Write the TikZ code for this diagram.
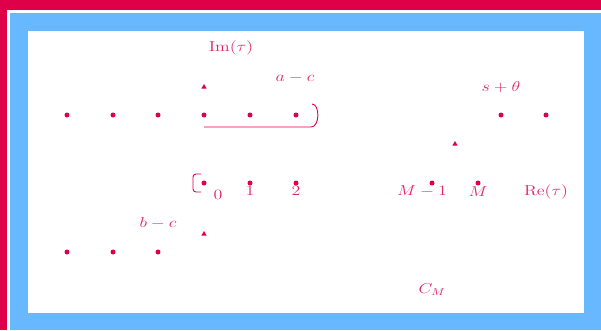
\documentclass[tikz,border=0pt]{standalone}
\usetikzlibrary{shapes.geometric}
\definecolor{crim}{RGB}{222,0,72}
\definecolor{frameblue}{RGB}{104,184,255}
\newcommand{\widetxt}[1]{\scalebox{1.25}[1.0]{#1}}
\tikzset{
  dot/.style={circle, fill=crim, inner sep=0pt, minimum size=5bp},
  tri/.style={regular polygon, regular polygon sides=3, fill=crim, inner sep=0pt, minimum size=6bp},
  lbl/.style={text=crim!85!white, inner sep=0pt, font=\fontsize{14}{16}\selectfont},
  contour/.style={draw=crim, line width=0.9bp},
}
\begin{document}
\begin{tikzpicture}[x=1bp, y=-1bp]
\useasboundingbox (0,0) rectangle (601,330);
% frame
\fill[crim] (0,0) rectangle (601,330);
\fill[white] (7,10) rectangle (601,330);
\fill[frameblue] (10,13) rectangle (601,330);
\fill[white] (28,31) rectangle (584,313);
% dots, upper row
\node[dot] (u1) at (67,115) {};
\node[dot] (u2) at (113,115) {};
\node[dot] (u3) at (158,115) {};
\node[dot] (u4) at (204,115) {};
\node[dot] (u5) at (250,115) {};
\node[dot] (u6) at (296,115) {};
\node[dot] (u7) at (501,115) {};
\node[dot] (u8) at (546,115) {};
% dots, real axis
\node[dot] (r0) at (204,183) {};
\node[dot] (r1) at (250,183) {};
\node[dot] (r2) at (296,183) {};
\node[dot] (rm1) at (432,183) {};
\node[dot] (rm) at (478,183) {};
% dots, lower row
\node[dot] (l1) at (67,252) {};
\node[dot] (l2) at (113,252) {};
\node[dot] (l3) at (158,252) {};
% small triangles
\node[tri] (t1) at (204,87) {};
\node[tri] (t2) at (204,234) {};
\node[tri] (t3) at (455,144) {};
% labels
\node[lbl] (im) at (231,48) {\widetxt{$\mathrm{Im}(\tau)$}};
\node[lbl] (amc) at (295,78) {\widetxt{$a-c$}};
\node[lbl] (bmc) at (158,223) {\widetxt{$b-c$}};
\node[lbl] (spt) at (501,87) {\widetxt{$s+\theta$}};
\node[lbl] (n0) at (218,195) {\widetxt{$0$}};
\node[lbl] (n1) at (250,191) {\widetxt{$1$}};
\node[lbl] (n2) at (296,191) {\widetxt{$2$}};
\node[lbl] (nm1) at (422,191) {\widetxt{$M-1$}};
\node[lbl] (nm) at (478,192) {\widetxt{$M$}};
\node[lbl] (re) at (546,192) {\widetxt{$\mathrm{Re}(\tau)$}};
\node[lbl] (cm) at (432,290) {\widetxt{$C_M$}};
% contour pieces
\coordinate (c1) at (204,127);
\coordinate (c2) at (311,127);
\coordinate (c3) at (312,104);
\draw[contour] (c1) -- (c2) .. controls (320,127) and (320,104) .. (c3);
\coordinate (b1) at (201,174);
\coordinate (b2) at (201,192);
\draw[contour, rounded corners=3bp] (b1) -- (193,174) -- (193,192) -- (b2);
\end{tikzpicture}
\end{document}
